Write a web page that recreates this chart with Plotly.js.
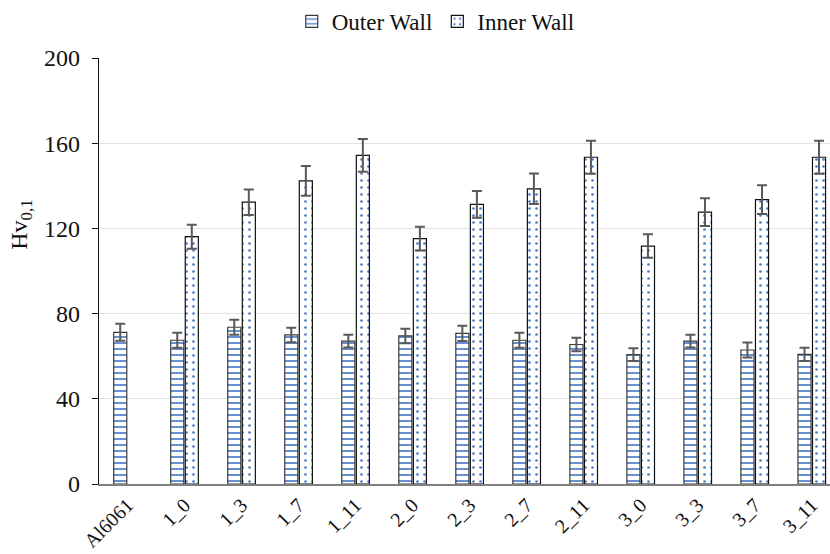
<!DOCTYPE html>
<html>
<head>
<meta charset="utf-8">
<script src="https://cdn.plot.ly/plotly-3.0.1.min.js"></script>
<style>html,body{margin:0;padding:0;background:#fff;}#chart{width:830px;height:554px;}</style>
</head>
<body>
<div id="chart"></div>
<script>
const categories = ["Al6061","1_0","1_3","1_7","1_11","2_0","2_3","2_7","2_11","3_0","3_3","3_7","3_11"];
const outerWall = [71.2, 67.5, 73.6, 70.0, 67.1, 69.5, 70.7, 67.5, 65.5, 60.7, 67.1, 62.9, 60.9];
const outerErr  = [4.0, 3.5, 3.5, 3.4, 3.0, 3.4, 3.6, 3.5, 3.2, 3.0, 3.0, 3.5, 3.1];
const innerWall = [null, 116.1, 132.3, 142.3, 154.3, 115.2, 131.3, 138.6, 153.4, 111.7, 127.6, 133.5, 153.4];
const innerErr  = [null, 5.6, 6.0, 7.0, 7.7, 5.6, 6.3, 7.2, 7.7, 5.5, 6.5, 6.7, 7.8];
const yTicks = [0, 40, 80, 120, 160, 200];

const serif = "Liberation Serif";

const traces = [
  {
    type: "bar", name: "Outer Wall", x: categories, y: outerWall,
    error_y: {type: "data", array: outerErr, visible: true, color: "#595959", thickness: 2, width: 5},
    marker: {color: "white", line: {color: "#3a3a3a", width: 1.2},
      pattern: {shape: "-", fgcolor: "#4a7cc8", bgcolor: "white", size: 6, solidity: 0.28}}
  },
  {
    type: "bar", name: "Inner Wall", x: categories, y: innerWall,
    error_y: {type: "data", array: innerErr, visible: true, color: "#595959", thickness: 2, width: 5},
    marker: {color: "white", line: {color: "#111", width: 1.2},
      pattern: {shape: ".", fgcolor: "#4a7cc8", bgcolor: "white", size: 7, solidity: 0.12}}
  }
];

const layout = {
  width: 830, height: 554,
  font: {family: serif, color: "#111"},
  margin: {l: 99, r: 0, t: 58, b: 70},
  paper_bgcolor: "white", plot_bgcolor: "white",
  barmode: "group", bargap: 0.49, bargroupgap: 0.1,
  showlegend: true,
  legend: {orientation: "h", xref: "container", yref: "container", x: 0.525, xanchor: "center", y: 1.0, yanchor: "top",
    font: {family: serif, size: 23, color: "#111"}, itemwidth: 30, tracegroupgap: 0},
  xaxis: {
    type: "category", range: [-0.5, 12.32],
    showline: true, linecolor: "#7f7f7f", linewidth: 1.5,
    ticks: "", tickangle: -45,
    tickfont: {family: serif, size: 20, color: "#111"},
    showgrid: false, zeroline: false
  },
  yaxis: {
    range: [0, 200], tickvals: yTicks,
    showline: true, linecolor: "#111", linewidth: 1.2,
    ticks: "outside", ticklen: 6, tickcolor: "#111", ticklabelstandoff: 7,
    tickfont: {family: serif, size: 24, color: "#111"},
    showgrid: true, gridcolor: "#e2e2e2", gridwidth: 1, zeroline: false
  },
  annotations: [{
    text: "Hv<sub>0,1</sub>", textangle: -90, showarrow: false,
    xref: "paper", yref: "paper", x: -0.107, y: 0.608, xanchor: "center", yanchor: "middle",
    font: {family: serif, size: 24, color: "#111"}
  }]
};

Plotly.newPlot("chart", traces, layout, {displayModeBar: false, staticPlot: true});
</script>
</body>
</html>
